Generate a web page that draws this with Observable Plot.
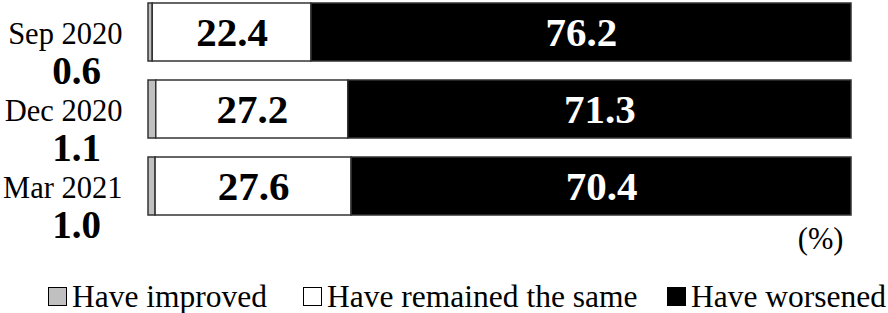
<!DOCTYPE html>
<html>
<head>
<meta charset="utf-8">
<script src="https://cdn.jsdelivr.net/npm/d3@7"></script>
<script src="https://cdn.jsdelivr.net/npm/@observablehq/plot@0.6"></script>
<style>
  html, body { margin: 0; padding: 0; background: #fff; overflow: hidden; }
  #wrap { width: 888px; height: 313px; font-family: "Liberation Serif", "Times New Roman", serif; }
  #legend { position: relative; height: 41px; font-size: 31.5px; color: #000; }
  .item { position: absolute; top: 8px; height: 33px; display: flex; align-items: center; white-space: nowrap; }
  .sw { width: 19px; height: 19px; border: 1.5px solid #000; box-sizing: border-box; margin-right: 5px; }
</style>
</head>
<body>
<div id="wrap"></div>
<script>
const categories = ["Sep 2020", "Dec 2020", "Mar 2021"];
const improved = [0.6, 1.1, 1.0];
const same = [22.4, 27.2, 27.6];
const worsened = [76.2, 71.3, 70.4];
const series = ["Have improved", "Have remained the same", "Have worsened"];
const colors = ["#c0c0c0", "#ffffff", "#000000"];
const unit = "(%)";

const values = [improved, same, worsened];
const data = [];
categories.forEach((c, i) => {
  series.forEach((s, j) => data.push({date: c, series: s, value: values[j][i]}));
});
const impData = categories.map((c, i) => ({date: c, value: improved[i]}));

const chart = Plot.plot({
  width: 888,
  height: 272,
  marginLeft: 148,
  marginRight: 37,
  marginTop: 2,
  marginBottom: 57,
  style: {fontFamily: "Liberation Serif, Times New Roman, serif", background: "#fff", overflow: "visible"},
  x: {domain: [0, 1], axis: null},
  y: {domain: categories, axis: null, paddingInner: 0.25, paddingOuter: 0},
  color: {domain: series, range: colors},
  marks: [
    Plot.barX(data, Plot.stackX({x: "value", y: "date", fill: "series", offset: "normalize", stroke: "#333", strokeWidth: 1.5})),
    Plot.text(data, Plot.stackX({x: "value", y: "date", offset: "normalize",
      text: d => d.series === "Have remained the same" ? d.value.toFixed(1) : null,
      fill: "black", fontSize: 41, fontWeight: "bold"})),
    Plot.text(data, Plot.stackX({x: "value", y: "date", offset: "normalize",
      text: d => d.series === "Have worsened" ? d.value.toFixed(1) : null,
      fill: "white", fontSize: 41, fontWeight: "bold"})),
    Plot.text(categories, {y: d => d, text: d => d, frameAnchor: "left", textAnchor: "end", dx: -26, dy: 2, fontSize: 30.5, fill: "black"}),
    Plot.text(impData, {y: "date", text: d => d.value.toFixed(1), frameAnchor: "left", textAnchor: "middle", dx: -72, dy: 39, fontSize: 39, fontWeight: "bold", fill: "black"}),
    Plot.text([unit], {text: d => d, frameAnchor: "bottom-right", textAnchor: "end", dx: -8, dy: 33, fontSize: 30.5, fill: "black"})
  ]
});

const wrap = document.getElementById("wrap");
wrap.appendChild(chart);
const legend = document.createElement("div");
legend.id = "legend";
const legendLeft = [48, 303, 667];
series.forEach((s, j) => {
  const it = document.createElement("span");
  it.className = "item";
  it.style.left = legendLeft[j] + "px";
  const sw = document.createElement("span");
  sw.className = "sw";
  sw.style.background = colors[j];
  it.appendChild(sw);
  it.appendChild(document.createTextNode(s));
  legend.appendChild(it);
});
wrap.appendChild(legend);
</script>
</body>
</html>
